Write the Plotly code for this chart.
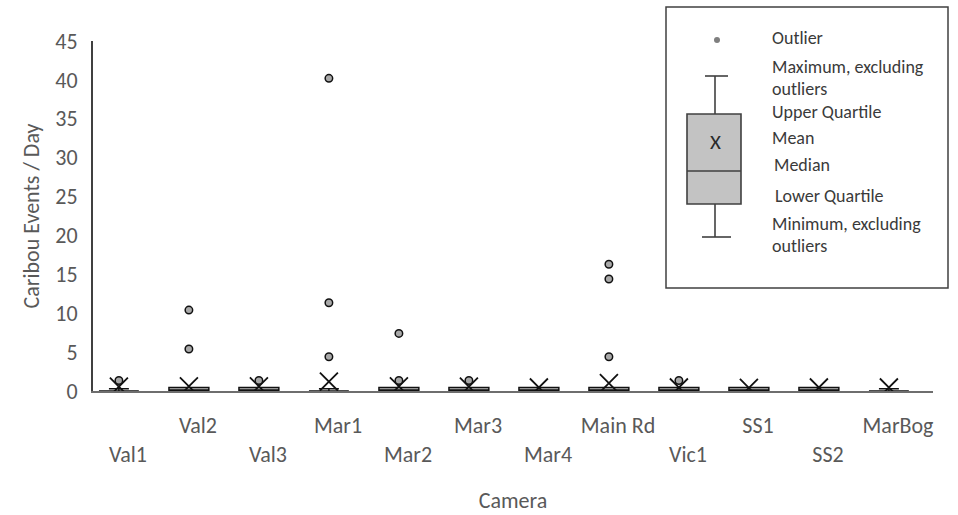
import plotly.graph_objects as go

# ---------------- data ----------------
cameras = ["Val1", "Val2", "Val3", "Mar1", "Mar2", "Mar3", "Mar4",
           "Main Rd", "Vic1", "SS1", "SS2", "MarBog"]
q1 = [0, 0, 0, 0, 0, 0, 0, 0, 0, 0, 0, 0]
median = [0, 0, 0, 0, 0, 0, 0, 0, 0, 0, 0, 0]
q3 = [0, 0.45, 0.45, 0, 0.45, 0.45, 0.45, 0.45, 0.45, 0.45, 0.45, 0]
lower_fence = [0, 0, 0, 0, 0, 0, 0, 0, 0, 0, 0, 0]
upper_fence = [0.3, 0.45, 0.45, 0.3, 0.45, 0.45, 0.45, 0.45, 0.45, 0.45, 0.45, 0.3]
means = [0.55, 0.6, 0.6, 1.2, 0.6, 0.55, 0.45, 1.0, 0.45, 0.4, 0.45, 0.45]

outlier_cam = ["Val1", "Val2", "Val2", "Val3", "Mar1", "Mar1", "Mar1",
               "Mar2", "Mar2", "Mar3", "Main Rd", "Main Rd", "Main Rd", "Vic1"]
outlier_val = [1.35, 5.4, 10.4, 1.35, 4.4, 11.35, 40.2,
               1.35, 7.4, 1.35, 4.4, 14.4, 16.3, 1.35]

y_ticks = [0, 5, 10, 15, 20, 25, 30, 35, 40, 45]
x_title = "Camera"
y_title = "Caribou Events / Day"

key_labels = ["Outlier", "Maximum, excluding", "outliers", "Upper Quartile",
              "Mean", "Median", "Lower Quartile", "Minimum, excluding", "outliers"]

# ---------------- style / layout ----------------
W, H = 958, 515
L, R, T, B = 93, 25, 41, 124
PW, PH = W - L - R, H - T - B
FONT = "Carlito, Lato, sans-serif"
TXT = "#595959"
SHIFT = -0.13  # box drawn slightly left of its category slot

pos = {c: i + SHIFT for i, c in enumerate(cameras)}
box_x = [pos[c] for c in cameras]

fig = go.Figure()
fig.add_trace(go.Box(
    x=box_x, q1=q1, median=median, q3=q3,
    lowerfence=lower_fence, upperfence=upper_fence,
    width=0.57, whiskerwidth=0.5, boxpoints=False,
    fillcolor="#bfbfbf", line=dict(color="#111111", width=1.5),
    showlegend=False, hoverinfo="skip"))
fig.add_trace(go.Scatter(
    x=box_x, y=means, mode="markers",
    marker=dict(symbol="x-thin", size=18, line=dict(color="#111111", width=1.8)),
    showlegend=False))
fig.add_trace(go.Scatter(
    x=[pos[c] for c in outlier_cam], y=outlier_val, mode="markers",
    marker=dict(symbol="circle", size=7.5, color="#a9a9a9",
                line=dict(color="#111111", width=1.5)),
    showlegend=False))

ticktext = [c if i % 2 == 1 else "<br>" + c for i, c in enumerate(cameras)]

fig.update_layout(
    width=W, height=H,
    margin=dict(l=L, r=R, t=T, b=B, pad=0, autoexpand=False),
    paper_bgcolor="white", plot_bgcolor="white",
    font=dict(family=FONT, size=22, color=TXT),
    xaxis=dict(range=[-0.5, len(cameras) - 0.5], tickmode="array",
               tickvals=list(range(len(cameras))), ticktext=ticktext,
               showgrid=False, zeroline=False, showline=True,
               linecolor="#6e6e6e", linewidth=1.5, ticks="",
               ticklabelstandoff=14, automargin=False,
               title=dict(text=x_title, standoff=26, font=dict(size=22, color=TXT))),
    yaxis=dict(range=[0, 45], tickmode="array", tickvals=y_ticks,
               showgrid=False, zeroline=False, showline=True,
               linecolor="#404040", linewidth=2, ticks="",
               ticklabelstandoff=9, automargin=False,
               tickfont=dict(size=22, color=TXT),
               title=dict(text=y_title, standoff=10, font=dict(size=22, color=TXT))),
)

# ---------------- key (explanatory box drawn at top right) ----------------
def px(xp):
    return (xp - L) / PW

def py(yp):
    return (H - B - yp) / PH

shapes = []
def rect(x0, y0, x1, y1, **kw):
    shapes.append(dict(type="rect", xref="paper", yref="paper",
                       x0=px(x0), x1=px(x1), y0=py(y1), y1=py(y0), **kw))

def line(x0, y0, x1, y1, color="#404040", width=1.6):
    shapes.append(dict(type="line", xref="paper", yref="paper",
                       x0=px(x0), x1=px(x1), y0=py(y0), y1=py(y1),
                       line=dict(color=color, width=width)))

rect(666, 7, 948, 288, line=dict(color="#404040", width=1.5), fillcolor="white")
shapes.append(dict(type="circle", xref="paper", yref="paper",
                   x0=px(714), x1=px(720), y0=py(43), y1=py(37),
                   fillcolor="#7f7f7f", line=dict(width=0)))
line(715, 76, 715, 114)
line(705, 76, 728, 76)
rect(687, 114, 741, 204, line=dict(color="#404040", width=1.6), fillcolor="#c3c3c3")
line(687, 171, 741, 171)
line(715, 204, 715, 237)
line(702, 237, 731, 237)

annotations = [dict(x=px(715), y=py(142), xref="paper", yref="paper", text="X",
                    showarrow=False, xanchor="center", yanchor="middle",
                    font=dict(family=FONT, size=21, color="#2a2a2a"))]
key_y = [38, 67, 89, 112, 138, 165, 196, 224, 246]
key_x = [770, 770, 770, 770, 770, 772, 773, 770, 770]
for lab, yy, xx in zip(key_labels, key_y, key_x):
    annotations.append(dict(x=px(xx), y=py(yy), xref="paper", yref="paper",
                            text=lab, showarrow=False, xanchor="left",
                            yanchor="middle",
                            font=dict(family=FONT, size=18, color="#3a3a3a")))

fig.update_layout(shapes=shapes, annotations=annotations)
fig.write_html("out.html", config={"displayModeBar": False},
               post_script="document.body.style.margin='0px';document.body.style.overflow='hidden';")
